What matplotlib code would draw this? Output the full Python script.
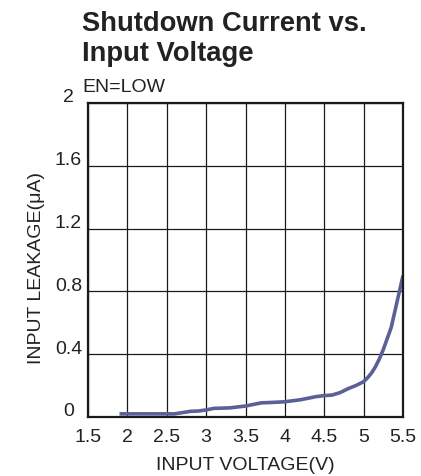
import matplotlib
matplotlib.use("Agg")
import matplotlib.pyplot as plt
import matplotlib.transforms as mtransforms

plt.rcParams["font.family"] = ["Liberation Sans", "DejaVu Sans"]

# input voltage (V) vs input leakage (uA), EN=LOW
vin = [1.9, 2.0, 2.3, 2.6, 2.7, 2.8, 2.9, 3.0, 3.1, 3.3, 3.5, 3.6, 3.7, 3.8,
       4.0, 4.2, 4.4, 4.5, 4.6, 4.7, 4.8, 4.9, 5.0, 5.05, 5.1, 5.15, 5.2,
       5.25, 5.3, 5.35, 5.4, 5.45, 5.5]
leak = [0.02, 0.02, 0.02, 0.02, 0.028, 0.036, 0.038, 0.045, 0.055, 0.058,
        0.07, 0.08, 0.09, 0.092, 0.097, 0.11, 0.13, 0.136, 0.14, 0.155, 0.18,
        0.2, 0.225, 0.25, 0.28, 0.32, 0.37, 0.43, 0.50, 0.57, 0.68, 0.79, 0.90]

xticks = [1.5, 2, 2.5, 3, 3.5, 4, 4.5, 5, 5.5]
xticklabels = ["1.5", "2", "2.5", "3", "3.5", "4", "4.5", "5", "5.5"]
yticks = [0, 0.4, 0.8, 1.2, 1.6, 2]
yticklabels = ["0", "0.4", "0.8", "1.2", "1.6", "2"]

W, H = 421, 477
fig = plt.figure(figsize=(W / 100, H / 100), dpi=100)
ax = fig.add_axes([88 / W, (H - 418) / H, 315 / W, 314 / H])

ax.plot(vin, leak, color="#5b6096", lw=2.6, solid_capstyle="butt")

ax.set_xlim(1.5, 5.5)
ax.set_ylim(0, 2)
ax.set_xticks(xticks)
ax.set_xticklabels(xticklabels)
ax.set_yticks(yticks)
ax.set_yticklabels(yticklabels)
ax.tick_params(length=0, labelsize=14, colors="#222222")
ax.tick_params(axis="x", pad=8)
ax.tick_params(axis="y", pad=14)

shift = mtransforms.ScaledTranslation(0, 1.5 / 100, fig.dpi_scale_trans)
for lab in ax.get_yticklabels():
    lab.set_horizontalalignment("center")
    lab.set_verticalalignment("baseline")
    lab.set_transform(lab.get_transform() + shift)

ax.grid(True, color="#1a1a1a", lw=0.9)
for s in ax.spines.values():
    s.set_linewidth(1.6)
    s.set_color("#1a1a1a")

ax.set_xlabel("INPUT VOLTAGE(V)", fontsize=14, color="#222222", labelpad=8)
fig.text(37 / W, 1 - 268 / H, "INPUT LEAKAGE(\u03bcA)", rotation=90,
         ha="center", va="center", fontsize=14, color="#222222")

fig.text(82 / W, 1 - 31 / H, "Shutdown Current vs.", fontsize=19.7,
         fontweight="bold", color="#222222", va="baseline")
fig.text(82 / W, 1 - 61 / H, "Input Voltage", fontsize=19.7,
         fontweight="bold", color="#222222", va="baseline")
fig.text(82 / W, 1 - 92 / H, "EN=LOW", fontsize=14, color="#222222",
         va="baseline")

fig.savefig("out.png", dpi=100)
